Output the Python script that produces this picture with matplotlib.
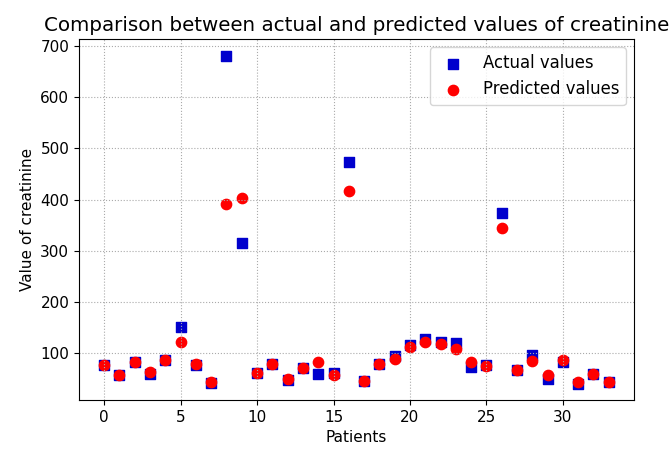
import matplotlib
matplotlib.use("Agg")
import matplotlib.pyplot as plt
import numpy as np

# patient index and creatinine values
patients = np.arange(34)
actual = [77, 57, 84, 60, 88, 151, 77, 42, 681, 316,
          62, 80, 48, 71, 60, 62, 473, 47, 80, 94,
          116, 129, 123, 120, 73, 78, 374, 68, 97, 51,
          84, 41, 60, 44]
predicted = [77, 57, 84, 64, 88, 122, 79, 45, 391, 404,
             62, 80, 50, 71, 84, 57, 416, 47, 80, 90,
             112, 122, 118, 109, 84, 76, 345, 68, 86, 57,
             88, 45, 60, 44]

plt.rcParams['font.size'] = 11

fig = plt.figure(figsize=(6.71, 4.5), dpi=100)
ax = fig.add_axes([0.1177, 0.111, 0.827, 0.802])

ax.scatter(patients, actual, marker='s', color='mediumblue', s=55, label='Actual values')
ax.scatter(patients, predicted, marker='o', color='red', s=55, label='Predicted values')

ax.set_title("Comparison between actual and predicted values of creatinine", fontsize=14.3)
ax.set_xlabel("Patients")
ax.set_ylabel("Value of creatinine")
ax.grid(True, linestyle=':', color='#aaaaaa')
ax.legend(loc='upper right', fontsize=11.9)

fig.savefig("out.png")
